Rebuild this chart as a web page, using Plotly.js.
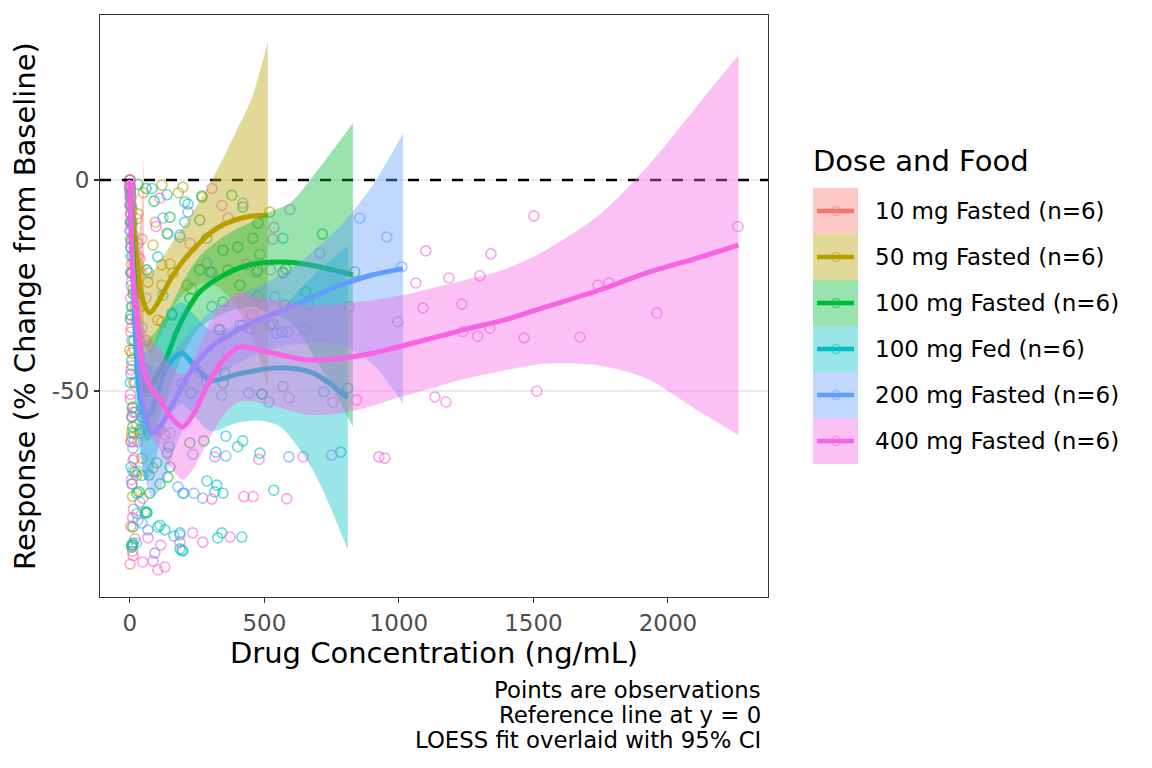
<!DOCTYPE html>
<html lang="en">
<head>
<meta charset="utf-8">
<title>Response vs drug concentration</title>
<script src="https://cdn.plot.ly/plotly-3.0.1.min.js" charset="utf-8"></script>
<style>body{margin:0;background:#fff}</style>
</head>
<body>
<div id="plot" style="width:1152px;height:768px"></div>
<script>
const FONT = 'DejaVu Sans, Liberation Sans, sans-serif';

const groups = ['10 mg Fasted (n=6)', '50 mg Fasted (n=6)', '100 mg Fasted (n=6)',
                '100 mg Fed (n=6)', '200 mg Fasted (n=6)', '400 mg Fasted (n=6)'];
const colors = ['#F8766D', '#B79F00', '#00BA38', '#00BFC4', '#619CFF', '#F564E3'];

const xTicks = [0, 500, 1000, 1500, 2000];
const yTicks = [-50, 0];
const yTickText = ['-50', '0'];
const refY = 0;
const X_RANGE = [-111, 2372];
const Y_RANGE = [-98.8, 39.1];

// observations
const obsX10 = [0,1,2,3,5,26,8,12,45,4,37,15,11,26,6,18,9,22,3,14,7,20,2,11,25,5,16,30,8,48,13,4,19,10,1,33,40,28];
const obsY10 = [0,-2,-4,-6,-8,-9.2,-11,-13,-14,-16,-18.7,-20,-21.8,-21.3,-24,-27,-30,-33,-36,-40,-44,-48,-52,-55,-58,-62,-66,-69,-72,-75.4,-78,-82,-85,-88,-91,-45,-30,-62];

const obsX50 = [0,2,5,8,3,10,6,12,4,0,7,11,7,37,7,45,86,48,37,112,130,74,86,45,260,104,119,67,119,212,230,119,149,86,138,119,197,268,520,50,30,20,60,15,25,10,160,95,180];
const obsY50 = [0,-2,-4,-7,-10,-14,-20,-26,-33,-40.3,-41,-53.8,-59.7,-60,-61,-65.9,-68.2,-56.2,-59.2,-59.2,-60.4,-46.2,-48.1,-49,-45.5,-33.2,-33.6,-24.2,-24.9,-24.9,-25.8,-20.1,-19.9,-15.4,-12.6,-1.2,-1.7,-4.1,-7.6,-3,-8,-30,-38,-48,-70,-75,-22,-10,-3];

const obsX100 = [0,2,5,8,3,10,6,12,4,15,7,11,19,26,34,56,63,11,11,7,74,71,100,112,141,149,138,145,223,275,48,193,227,286,346,353,491,335,520,531,156,223,346,409,476,576,654,836,580,260,365,63,346,401,286,457,476,716,149,260,420,379,268,30,60,90];
const obsY100 = [0,-3,-6,-10,-14,-18,-22,-27,-32,-38,-56.2,-58.5,-69.2,-74.2,-73.9,-78.7,-78.9,-82.2,-86.5,-87,-74.2,-69.9,-67,-72,-70.4,-68,-64.7,-63.2,-62.3,-61.8,-48.6,-48.3,-50.5,-47.6,-48.1,-45.7,-50.7,-35.5,-34.4,-34.1,-32,-28,-28.9,-24.9,-27.5,-29.6,-26.5,-21.8,-21.1,-21.3,-21.3,-21.3,-16.6,-15.9,-13.8,-13.8,-10.2,-12.8,-8.8,-9.5,-6.4,-3.6,-3.8,-1,-2,-5];

const obsXFed = [0,1,2,4,3,6,7,2,9,14,5,26,63,7,11,104,112,130,164,186,186,193,197,327,342,416,197,286,316,323,346,535,320,357,401,420,483,784,491,721,810,546,409,331,420,565,305,297,472,476,483,156,123,104,141,186,204,216,204,138,82,569,60,45];
const obsYFed = [-2,-6,-10,-16,-22,-30,-42.7,-48,-54,-60,-68,-79,-78.7,-86.5,-86,-82.2,-81.8,-82.9,-84.4,-83.6,-87.4,-87.7,-87.9,-84.8,-83.6,-84.6,-74.2,-71.3,-73.9,-72.3,-74.2,-73.5,-64.5,-60.7,-63.2,-61.8,-64.7,-64.5,-50.7,-50.2,-49.3,-36.3,-34.4,-35.4,-34.4,-36,-21.8,-21.8,-21.8,-21.3,-17.6,-31.6,-27.3,-18.2,-12.8,-13.5,-10,-5.7,-5.2,-3.5,-2,-13.8,-45,-70];

const obsX200 = [0,1,2,0,3,5,2,7,4,11,11,37,30,45,67,93,186,179,201,238,271,234,357,591,342,442,569,517,446,453,305,286,186,123,216,420,855,955,1011,996,569,665,539,587,60,20,15,8,25,45,30,70];
const obsY200 = [-1,-4,-8,-12,-18,-25,-33,-38,-46,-63.5,-69,-76.3,-80.6,-81.3,-82.9,-88.4,-84.1,-72.7,-74.2,-74.2,-75.4,-65,-65.4,-65.6,-51,-50.5,-49,-52.6,-35.2,-32,-30,-19.7,-13,-9,-7.6,-5.5,-9,-13.5,-20.6,-33.6,-21.8,-29.6,-27.7,-36,-50,-55,-62,-72,-86,-35,-15,-22];

const obsX400 = [0,0,0,0,1,2,0,3,1,4,2,5,3,6,4,2,8,5,12,6,10,12,48,86,104,130,67,115,186,233,271,372,305,424,458,583,316,480,644,750,926,948,592,754,843,1134,1175,1513,651,815,495,523,706,531,536,595,305,342,365,223,97,112,435,569,1502,2260,1100,1342,1063,1186,1301,1740,1781,1089,1234,1959,1238,1293,1338,1465,1673,60,30,150];
const obsY400 = [0,0,-1,-2,-3,-5,-6,-8,-10,-12,-15,-22,-28,-35,-45,-50.8,-56,-62,-66.4,-71,-80,-89,-90.5,-90.3,-92.4,-91.7,-84.8,-86.5,-85.8,-83.6,-85.8,-84.6,-75.6,-75,-75,-75.5,-65.6,-66.2,-65.6,-65.2,-65.6,-65.9,-51.6,-52.7,-52.1,-51.4,-52.6,-50,-35.4,-30,-29.6,-21.3,-17.3,-14,-11.2,-7,-2,-6,-9,-15,-11,-4.3,-20,-22,-8.5,-11,-16.8,-17.5,-24.4,-23.2,-22.7,-24.9,-24.4,-30.3,-29.4,-31.5,-35.9,-37,-35.1,-37.4,-37.2,-28,-18,-60];

// LOESS fit with 95% CI
const fitX10 = [0,8,16,24,34,44,52];
const fitY10 = [-4,-12,-19,-24,-27,-28,-28];
const fitLo10 = [-6,-16,-25,-33,-41,-50,-62];
const fitHi10 = [-2,-8,-13,-15,-13,-6,6];

const fitX50 = [0,10,25,40,60,75,100,130,160,200,250,300,350,400,450,513];
const fitY50 = [-2,-8,-18,-26,-30.5,-31.5,-29.5,-26,-22.5,-19,-15.5,-12.5,-10.5,-9.3,-8.6,-8.3];
const fitLo50 = [-4,-12,-24,-34,-40,-41,-38.5,-34.5,-30.5,-27,-25,-24.5,-26.5,-30.8,-36.1,-49.3];
const fitHi50 = [0,-4,-12,-18,-21,-22,-20.5,-17.5,-14.5,-11,-6,-0.5,5.5,12.2,18.9,32.7];

const fitX100 = [0,10,25,40,60,80,100,137,170,212,260,335,400,450,520,595,700,829];
const fitY100 = [-2,-15,-33,-45,-50,-49,-46.5,-42,-36.5,-31,-26.5,-23,-21,-20,-19.5,-19.5,-20.5,-22.5];
const fitLo100 = [-4,-20,-42,-56,-62,-61,-57.5,-52,-45.5,-39.5,-35,-32,-30.5,-30,-31.5,-33.5,-43.5,-58.5];
const fitHi100 = [0,-10,-24,-34,-38,-37,-35.5,-32,-27.5,-22.5,-18,-14,-11.5,-10,-7.5,-5.5,2.5,13.5];

const fitXFed = [0,10,25,40,60,80,100,140,193,240,300,400,480,560,680,810];
const fitYFed = [-2,-20,-42,-52,-56,-55,-51,-44,-41,-44,-47.5,-46,-45,-44.5,-45.7,-51.6];
const fitLoFed = [-5,-28,-54,-66,-71,-70,-65,-56.5,-53,-56,-59.5,-57.5,-57,-58.5,-68.7,-87.6];
const fitHiFed = [1,-12,-30,-38,-41,-40,-37,-31.5,-29,-32,-35.5,-34.5,-33,-30.5,-22.7,-15.6];

const fitX200 = [0,10,25,50,80,112,160,210,286,400,483,600,780,900,1015];
const fitY200 = [-2,-20,-38,-54,-60,-58.5,-53,-47,-40.5,-35.5,-33,-30,-25,-22.5,-21];
const fitLo200 = [-5,-28,-50,-68,-75,-73.5,-65,-57,-49,-43.5,-41,-39,-39,-43.5,-53];
const fitHi200 = [1,-12,-26,-40,-45,-43.5,-41,-37,-32,-27.5,-25,-21,-11,-1.5,11];

const fitX400 = [0,5,11,26,48,75,112,150,197,240,285,330,372,409,460,532,657,780,904,1000,1152,1239,1400,1549,1750,1921,2108,2262];
const fitY400 = [0,-10,-22,-33,-44,-49,-52,-56,-58.5,-55,-49,-44,-41,-39.5,-40,-41,-42.6,-42.3,-41,-39.5,-37,-35.5,-33,-30,-26,-22,-18.5,-15.4];
const fitLo400 = [-2,-14,-28,-41,-54,-60,-64,-68,-71,-68,-62.5,-57.5,-54,-52.5,-52.5,-53.5,-55.6,-55.3,-53.5,-51.5,-48.8,-47.2,-45,-43.5,-44,-47,-54.5,-60.4];
const fitHi400 = [2,-6,-16,-25,-34,-38,-40,-44,-46,-42,-35.5,-30.5,-28,-26.5,-27.5,-28.5,-29.6,-29.3,-28.5,-27.5,-25.2,-23.8,-21,-16.5,-8,3,17.5,29.6];

const obsX = [obsX10, obsX50, obsX100, obsXFed, obsX200, obsX400];
const obsY = [obsY10, obsY50, obsY100, obsYFed, obsY200, obsY400];
const fitX = [fitX10, fitX50, fitX100, fitXFed, fitX200, fitX400];
const fitY = [fitY10, fitY50, fitY100, fitYFed, fitY200, fitY400];
const fitLo = [fitLo10, fitLo50, fitLo100, fitLoFed, fitLo200, fitLo400];
const fitHi = [fitHi10, fitHi50, fitHi100, fitHiFed, fitHi200, fitHi400];

function rgba(hex, a) {
  const n = parseInt(hex.slice(1), 16);
  return 'rgba(' + (n >> 16) + ',' + ((n >> 8) & 255) + ',' + (n & 255) + ',' + a + ')';
}

let traces = [];

// points
groups.forEach((g, i) => {
  traces.push({
    x: obsX[i], y: obsY[i], type: 'scatter', mode: 'markers', name: g,
    marker: {symbol: 'circle-open', size: 10, color: rgba(colors[i], 0.6), line: {width: 1.6}},
    showlegend: false, hoverinfo: 'skip'
  });
});

// reference line
traces.push({
  x: X_RANGE, y: [refY, refY], type: 'scatter', mode: 'lines',
  line: {color: 'black', width: 2.5, dash: '11px,11px'},
  showlegend: false, hoverinfo: 'skip'
});

// ribbons and loess lines, one group at a time
groups.forEach((g, i) => {
  traces.push({
    x: fitX[i], y: fitLo[i], type: 'scatter', mode: 'lines',
    line: {width: 0, shape: 'spline', smoothing: 0.8},
    showlegend: false, hoverinfo: 'skip'
  });
  traces.push({
    x: fitX[i], y: fitHi[i], type: 'scatter', mode: 'lines', fill: 'tonexty',
    fillcolor: rgba(colors[i], 0.4),
    line: {width: 0, shape: 'spline', smoothing: 0.8},
    showlegend: false, hoverinfo: 'skip'
  });
  traces.push({
    x: fitX[i], y: fitY[i], type: 'scatter', mode: 'lines',
    line: {color: colors[i], width: 5, shape: 'spline', smoothing: 0.8},
    showlegend: false, hoverinfo: 'skip'
  });
});

// panel geometry in pixels, used for the hand-made legend
const PL = 100, PR = 768, PT = 15, PB = 597;
const px = v => (v - PL) / (PR - PL);
const py = v => (PB - v) / (PB - PT);

let shapes = [];
let annotations = [];

annotations.push({
  xref: 'paper', yref: 'paper', x: px(811), y: py(161), xanchor: 'left', yanchor: 'middle',
  text: 'Dose and Food', showarrow: false, font: {size: 29, color: 'black'}
});

groups.forEach((g, i) => {
  const top = 188 + 46 * i, mid = top + 23;
  shapes.push({type: 'rect', xref: 'paper', yref: 'paper',
    x0: px(813), x1: px(858), y0: py(top + 46), y1: py(top),
    fillcolor: rgba(colors[i], 0.4), line: {width: 0}});
  shapes.push({type: 'line', xref: 'paper', yref: 'paper',
    x0: px(817), x1: px(854), y0: py(mid), y1: py(mid),
    line: {color: colors[i], width: 4.5}});
  shapes.push({type: 'circle', xref: 'paper', yref: 'paper',
    x0: px(831.5), x1: px(840.5), y0: py(mid + 4.5), y1: py(mid - 4.5),
    line: {color: rgba(colors[i], 0.5), width: 1.5}, fillcolor: 'rgba(0,0,0,0)'});
  annotations.push({xref: 'paper', yref: 'paper', x: px(873), y: py(mid),
    xanchor: 'left', yanchor: 'middle', text: g, showarrow: false,
    font: {size: 23, color: 'black'}});
});

const captionLines = ['Points are observations', 'Reference line at y = 0', 'LOESS fit overlaid with 95% CI'];
captionLines.forEach((t, i) => {
  annotations.push({xref: 'paper', yref: 'paper', x: px(763), y: py(690 + 25 * i),
    xanchor: 'right', yanchor: 'middle', text: t, showarrow: false,
    font: {size: 22.8, color: 'black'}});
});

const layout = {
  width: 1152, height: 768,
  margin: {l: PL, r: 1152 - PR, t: PT, b: 768 - PB},
  paper_bgcolor: 'white', plot_bgcolor: 'white',
  showlegend: false,
  font: {family: FONT, color: 'black'},
  xaxis: {
    range: X_RANGE, tickvals: xTicks, ticktext: xTicks.map(String),
    ticks: 'outside', ticklen: 5, tickwidth: 1.1, tickcolor: '#333333',
    tickfont: {size: 23, color: '#4d4d4d'},
    showgrid: false, zeroline: false,
    showline: true, mirror: true, linecolor: '#333333', linewidth: 1.1,
    title: {text: 'Drug Concentration (ng/mL)', font: {size: 29, color: 'black'}, standoff: 6}
  },
  yaxis: {
    range: Y_RANGE, tickvals: yTicks, ticktext: yTickText,
    ticks: 'outside', ticklen: 5, tickwidth: 1.1, tickcolor: '#333333',
    tickfont: {size: 23, color: '#4d4d4d'},
    showgrid: true, gridcolor: '#ebebeb', gridwidth: 1.6, zeroline: false,
    showline: true, mirror: true, linecolor: '#333333', linewidth: 1.1,
    title: {text: 'Response (% Change from Baseline)', font: {size: 29, color: 'black'}, standoff: 7}
  },
  shapes: shapes,
  annotations: annotations
};

Plotly.newPlot(document.getElementById('plot'), traces, layout, {staticPlot: true, displayModeBar: false});
</script>
</body>
</html>
